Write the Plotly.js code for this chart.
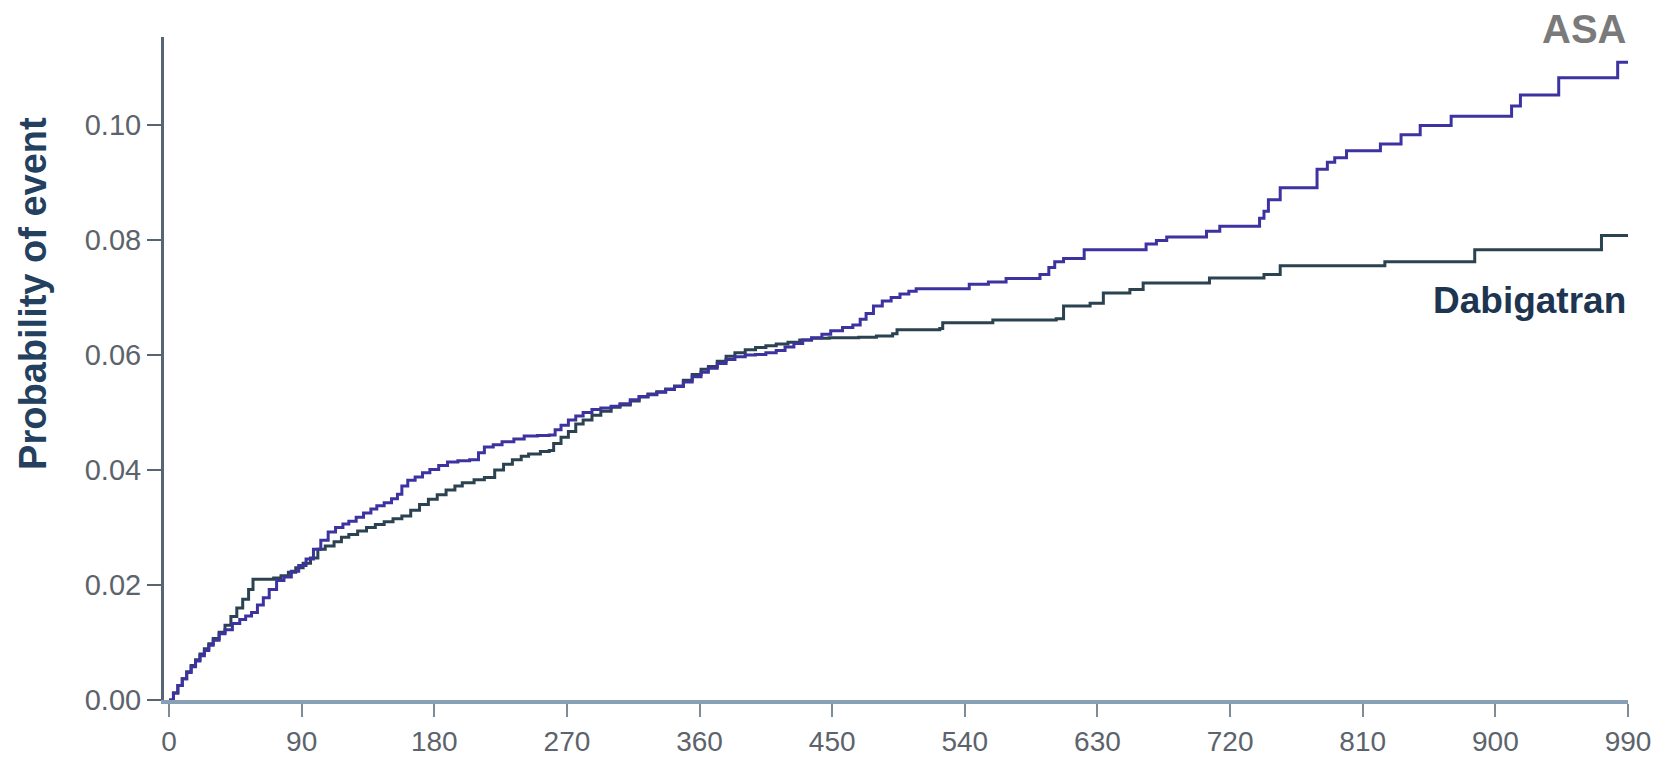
<!DOCTYPE html>
<html>
<head>
<meta charset="utf-8">
<script src="https://cdn.plot.ly/plotly-3.0.1.min.js"></script>
<style>
  html, body { margin: 0; padding: 0; background: #ffffff; }
  #chart { width: 1669px; height: 760px; }
</style>
</head>
<body>
<div id="chart"></div>
<script>
// Days since randomisation (step times) and cumulative probability of event
const asaDays = [0, 3, 6, 9, 12, 15, 18, 21, 24, 27, 30, 34, 38, 43, 48, 52, 56, 60, 64, 68, 73, 78, 83, 88, 93, 98, 103, 108, 113, 118, 122, 127, 132, 137, 141, 146, 151, 155, 158, 162, 167, 172, 177, 183, 189, 196, 204, 210, 214, 220, 226, 234, 241, 250, 258, 262, 266, 271, 276, 281, 287, 293, 300, 306, 313, 319, 325, 331, 337, 343, 349, 355, 361, 366, 372, 378, 384, 391, 398, 405, 412, 418, 424, 430, 436, 443, 449, 457, 464, 469, 473, 478, 484, 490, 496, 502, 507, 543, 556, 568, 591, 597, 601, 607, 621, 663, 670, 677, 704, 713, 740, 743, 746, 754, 779, 786, 791, 799, 822, 836, 849, 870, 911, 917, 943, 983, 990];
const asaProb = [0, 0.0012, 0.0025, 0.0037, 0.0048, 0.0058, 0.0068, 0.0077, 0.0086, 0.0095, 0.0104, 0.0115, 0.0122, 0.0133, 0.0140, 0.0146, 0.0152, 0.0165, 0.0178, 0.0192, 0.0208, 0.0214, 0.0224, 0.0234, 0.0245, 0.0262, 0.0278, 0.0292, 0.0300, 0.0306, 0.0311, 0.0318, 0.0325, 0.0332, 0.0338, 0.0343, 0.0350, 0.0358, 0.0372, 0.0382, 0.0388, 0.0395, 0.0401, 0.0408, 0.0414, 0.0416, 0.0418, 0.0430, 0.0440, 0.0444, 0.0449, 0.0454, 0.0459, 0.0460, 0.0461, 0.0470, 0.0478, 0.0487, 0.0494, 0.0500, 0.0505, 0.0508, 0.0511, 0.0515, 0.0522, 0.0528, 0.0531, 0.0535, 0.0540, 0.0545, 0.0553, 0.0562, 0.0570, 0.0577, 0.0585, 0.0592, 0.0597, 0.0600, 0.0601, 0.0604, 0.0608, 0.0614, 0.0620, 0.0626, 0.0630, 0.0636, 0.0642, 0.0648, 0.0652, 0.0662, 0.0672, 0.0685, 0.0694, 0.0700, 0.0706, 0.0711, 0.0715, 0.0723, 0.0727, 0.0733, 0.0740, 0.0752, 0.0762, 0.0768, 0.0783, 0.0793, 0.0799, 0.0805, 0.0815, 0.0824, 0.0838, 0.0850, 0.0870, 0.0891, 0.0923, 0.0935, 0.0943, 0.0955, 0.0967, 0.0983, 0.0999, 0.1015, 0.1033, 0.1052, 0.1082, 0.1109, 0.1109];

const dabiDays = [0, 3, 6, 9, 12, 15, 18, 21, 24, 27, 30, 34, 38, 42, 46, 50, 54, 57, 71, 76, 81, 86, 91, 96, 101, 106, 112, 117, 122, 128, 134, 140, 146, 152, 158, 164, 170, 176, 182, 188, 194, 199, 207, 214, 221, 227, 233, 239, 244, 252, 258, 261, 266, 271, 276, 281, 287, 293, 300, 306, 313, 319, 325, 331, 337, 343, 349, 355, 361, 366, 372, 378, 384, 391, 398, 405, 412, 420, 428, 436, 448, 468, 480, 491, 494, 523, 525, 559, 602, 607, 625, 634, 652, 661, 706, 743, 754, 825, 886, 972, 990];
const dabiProb = [0, 0.0012, 0.0025, 0.0037, 0.0049, 0.0060, 0.0070, 0.0080, 0.0089, 0.0098, 0.0107, 0.0118, 0.0130, 0.0145, 0.0160, 0.0175, 0.0192, 0.0210, 0.0212, 0.0216, 0.0222, 0.0230, 0.0238, 0.0247, 0.0262, 0.0268, 0.0275, 0.0283, 0.0288, 0.0294, 0.0300, 0.0305, 0.0310, 0.0315, 0.0320, 0.0330, 0.0340, 0.0349, 0.0357, 0.0365, 0.0372, 0.0378, 0.0383, 0.0387, 0.0400, 0.0410, 0.0418, 0.0424, 0.0428, 0.0432, 0.0434, 0.0446, 0.0457, 0.0467, 0.0480, 0.0487, 0.0495, 0.0502, 0.0509, 0.0513, 0.0520, 0.0527, 0.0532, 0.0536, 0.0541, 0.0546, 0.0556, 0.0566, 0.0575, 0.0580, 0.0589, 0.0598, 0.0604, 0.0609, 0.0613, 0.0616, 0.0619, 0.0622, 0.0626, 0.0629, 0.0630, 0.0631, 0.0633, 0.0637, 0.0644, 0.0646, 0.0656, 0.0661, 0.0663, 0.0685, 0.0690, 0.0708, 0.0714, 0.0725, 0.0734, 0.0740, 0.0755, 0.0762, 0.0783, 0.0808, 0.0808];

const xTicks = [0, 90, 180, 270, 360, 450, 540, 630, 720, 810, 900, 990];
const yTicks = [0, 0.02, 0.04, 0.06, 0.08, 0.10];
const yTickLabels = ["0.00", "0.02", "0.04", "0.06", "0.08", "0.10"];
const seriesNames = ["ASA", "Dabigatran"];
const yTitle = "Probability of event";

const FONT = "Liberation Sans, Arial, Helvetica, sans-serif";

const traces = [
  {
    x: dabiDays, y: dabiProb, name: seriesNames[1], type: "scatter", mode: "lines",
    line: { shape: "hv", color: "#2b4250", width: 3 }
  },
  {
    x: asaDays, y: asaProb, name: seriesNames[0], type: "scatter", mode: "lines",
    line: { shape: "hv", color: "#3d33a0", width: 3 }
  }
];

const layout = {
  width: 1669, height: 760,
  margin: { l: 164, r: 41, t: 37, b: 60 },
  paper_bgcolor: "#ffffff", plot_bgcolor: "#ffffff",
  showlegend: false,
  font: { family: FONT, color: "#5c636b" },
  xaxis: {
    range: [-3.4, 990],
    tickmode: "array", tickvals: xTicks,
    ticks: "outside", ticklen: 13, tickwidth: 2, tickcolor: "#7d8c99",
    showline: true, linecolor: "#87a0b5", linewidth: 4,
    showgrid: false, zeroline: false,
    tickfont: { family: FONT, size: 28, color: "#5c636b" },
    ticklabelstandoff: 0
  },
  yaxis: {
    range: [0, 0.1153],
    tickmode: "array", tickvals: yTicks, ticktext: yTickLabels,
    ticks: "outside", ticklen: 14, tickwidth: 2, tickcolor: "#566573",
    showline: true, linecolor: "#566573", linewidth: 3,
    showgrid: false, zeroline: false,
    tickfont: { family: FONT, size: 29, color: "#5c636b" },
    ticklabelstandoff: 0
  },
  annotations: [
    {
      text: seriesNames[0], xref: "paper", yref: "paper", x: 1.0, y: 1.012,
      xanchor: "right", yanchor: "middle", showarrow: false,
      font: { family: FONT, size: 40, color: "#7a7a7a", weight: "bold" }
    },
    {
      text: "<b>" + seriesNames[1] + "</b>", xref: "paper", yref: "paper", x: 1.0, y: 0.603,
      xanchor: "right", yanchor: "middle", showarrow: false,
      font: { family: FONT, size: 37, color: "#1d3550" }
    },
    {
      text: "<b>" + yTitle + "</b>", xref: "paper", yref: "paper", x: -0.0895, y: 0.614,
      xanchor: "center", yanchor: "middle", textangle: -90, showarrow: false,
      font: { family: FONT, size: 38, color: "#23405f" }
    }
  ]
};

Plotly.newPlot("chart", traces, layout, { displayModeBar: false, staticPlot: true });
</script>
</body>
</html>
